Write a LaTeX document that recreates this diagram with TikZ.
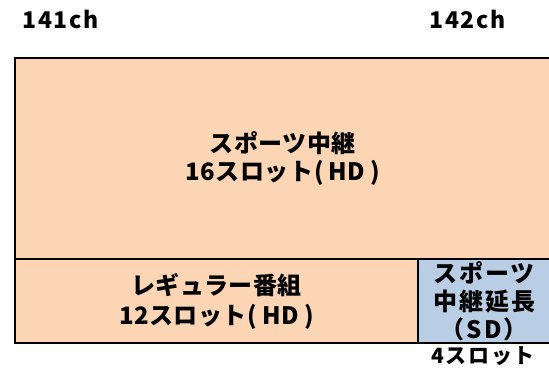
\documentclass[tikz,border=0pt]{standalone}
\usepackage{fontspec}
\setmainfont{Noto Sans CJK JP}
\newfontfamily\jp{Noto Sans CJK JP}[LetterSpace=2]
\newfontfamily\jpw{Noto Sans CJK JP}[LetterSpace=8]
\definecolor{peach}{RGB}{252,213,181}
\definecolor{paleblue}{RGB}{185,205,229}
\newcommand\hdtag{\kern1pt(\kern5pt HD\kern5pt)}
\begin{document}
\begin{tikzpicture}[x=1pt,y=-1pt,
  slot/.style={draw=black, line width=2pt, inner sep=0pt, align=center,
    font=\jp\bfseries\fontsize{24}{28}\selectfont, text=black},
  lab/.style={font=\jpw\bfseries\fontsize{23}{26}\selectfont, anchor=west, inner sep=0pt}]
\useasboundingbox (0,0) rectangle (549,370);
\node[slot, fill=peach, minimum width=535.5pt, minimum height=201pt] (sport) at (282.75,158.5) {スポーツ中継\\16スロット\hdtag};
\node[slot, fill=peach, minimum width=403pt, minimum height=84pt, font=\jp\bfseries\fontsize{24}{30}\selectfont] (regular) at (216.5,301) {レギュラー番組\\12スロット\hdtag};
\node[slot, fill=paleblue, minimum width=132.5pt, minimum height=84pt, font=\jpw\bfseries\fontsize{24}{28}\selectfont] (ext) at (484.25,301) {スポーツ\\中継延長\\（SD）};
\node[lab] (ch141) at (22,19) {141ch};
\node[lab] (ch142) at (429,19) {142ch};
\node[font=\jpw\bfseries\fontsize{21}{26}\selectfont, inner sep=0pt] (four) at (483,356) {4スロット};
\end{tikzpicture}
\end{document}
